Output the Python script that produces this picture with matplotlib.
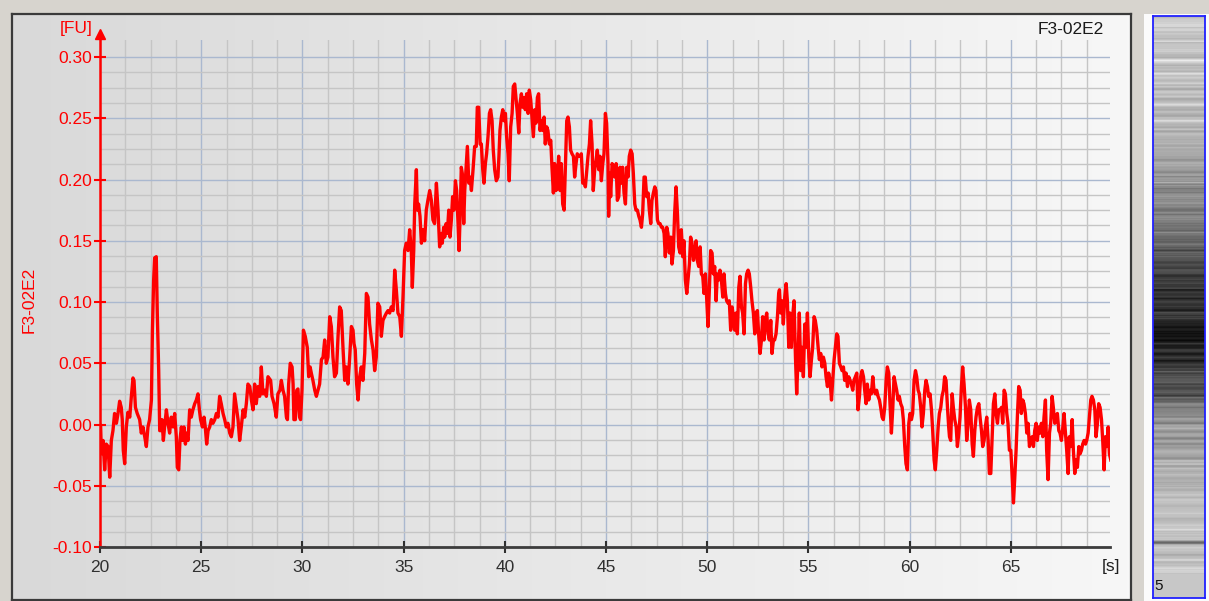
import numpy as np
import matplotlib.pyplot as plt
from matplotlib.colors import LinearSegmentedColormap
from matplotlib.patches import Rectangle
from matplotlib.ticker import FixedLocator, FormatStrFormatter

# trace, (time [s], signal [FU]) in pieces
trace_20_28 = [
    (20.00, 0.000), (20.03, -0.001), (20.07, -0.024), (20.15, -0.013), (20.23, -0.037),
    (20.31, -0.016), (20.40, -0.018), (20.48, -0.043), (20.56, -0.013), (20.64, -0.005),
    (20.72, 0.009), (20.81, 0.001), (20.89, 0.009), (20.97, 0.019), (21.05, 0.014),
    (21.10, 0.004), (21.15, -0.021), (21.22, -0.032), (21.30, -0.002), (21.38, 0.010),
    (21.47, 0.006), (21.55, 0.023), (21.63, 0.038), (21.68, 0.036), (21.75, 0.014),
    (21.84, 0.009), (21.96, 0.004), (22.04, -0.007), (22.12, -0.002), (22.21, -0.010),
    (22.29, -0.018), (22.37, -0.002), (22.45, 0.004), (22.54, 0.020), (22.59, 0.077),
    (22.65, 0.118), (22.70, 0.136), (22.78, 0.137), (22.83, 0.091), (22.90, 0.044),
    (22.95, -0.005), (23.00, -0.005), (23.06, 0.004), (23.13, -0.013), (23.19, -0.002),
    (23.28, 0.012), (23.36, 0.001), (23.44, -0.007), (23.52, 0.006), (23.61, -0.002),
    (23.69, 0.009), (23.77, -0.010), (23.82, -0.035), (23.89, -0.037), (23.95, -0.013),
    (24.02, -0.002), (24.08, -0.013), (24.15, -0.002), (24.22, -0.016), (24.28, -0.007),
    (24.35, -0.013), (24.43, 0.012), (24.51, 0.006), (24.59, 0.012), (24.68, 0.017),
    (24.76, 0.020), (24.84, 0.025), (24.91, 0.012), (24.97, 0.004), (25.06, -0.002),
    (25.14, 0.006), (25.20, -0.002), (25.27, -0.016), (25.34, -0.005), (25.42, -0.002),
    (25.50, 0.004), (25.58, 0.001), (25.67, 0.004), (25.75, 0.009), (25.83, 0.006),
    (25.91, 0.023), (25.99, 0.017), (26.08, 0.009), (26.16, 0.004), (26.24, -0.002),
    (26.32, 0.001), (26.41, -0.007), (26.49, -0.010), (26.57, -0.002), (26.65, 0.025),
    (26.74, 0.014), (26.82, 0.004), (26.90, -0.013), (26.98, -0.002), (27.07, 0.012),
    (27.15, 0.006), (27.23, 0.017), (27.31, 0.033), (27.40, 0.031), (27.48, 0.020),
    (27.56, 0.012), (27.64, 0.033), (27.72, 0.017), (27.81, 0.031), (27.89, 0.023),
    (27.97, 0.047), (28.05, 0.025), (28.14, 0.028), (28.22, 0.023), (28.30, 0.039),
]

trace_28_37 = [
    (28.43, 0.036), (28.50, 0.023), (28.60, 0.017), (28.71, 0.006), (28.79, 0.025),
    (28.89, 0.028), (28.96, 0.036), (29.04, 0.028), (29.12, 0.023), (29.21, 0.006),
    (29.26, 0.004), (29.32, 0.033), (29.40, 0.050), (29.49, 0.047), (29.54, 0.033),
    (29.58, 0.004), (29.65, 0.004), (29.72, 0.028), (29.78, 0.029), (29.86, 0.006),
    (29.91, 0.004), (29.98, 0.028), (30.05, 0.077), (30.14, 0.072), (30.24, 0.063),
    (30.31, 0.039), (30.38, 0.047), (30.44, 0.042), (30.52, 0.036), (30.61, 0.028),
    (30.69, 0.023), (30.77, 0.028), (30.85, 0.033), (30.94, 0.053), (31.02, 0.055),
    (31.10, 0.069), (31.18, 0.050), (31.26, 0.055), (31.35, 0.088), (31.43, 0.080),
    (31.51, 0.055), (31.59, 0.039), (31.68, 0.042), (31.76, 0.072), (31.84, 0.096),
    (31.92, 0.093), (32.01, 0.061), (32.09, 0.036), (32.17, 0.047), (32.25, 0.033),
    (32.33, 0.053), (32.42, 0.080), (32.50, 0.077), (32.55, 0.066), (32.61, 0.061),
    (32.68, 0.033), (32.75, 0.020), (32.83, 0.039), (32.91, 0.047), (32.99, 0.036),
    (33.08, 0.058), (33.16, 0.107), (33.24, 0.104), (33.32, 0.082), (33.41, 0.069),
    (33.49, 0.061), (33.57, 0.044), (33.65, 0.055), (33.73, 0.099), (33.82, 0.096),
    (33.90, 0.072), (33.98, 0.085), (34.06, 0.088), (34.15, 0.091), (34.23, 0.093),
    (34.31, 0.091), (34.39, 0.096), (34.48, 0.093), (34.56, 0.126), (34.64, 0.110),
    (34.72, 0.091), (34.81, 0.088), (34.89, 0.072), (34.97, 0.104), (35.05, 0.142),
    (35.13, 0.148), (35.22, 0.142), (35.30, 0.159), (35.38, 0.142), (35.43, 0.112),
    (35.50, 0.142), (35.55, 0.180), (35.63, 0.208), (35.68, 0.175), (35.74, 0.180),
    (35.81, 0.170), (35.88, 0.148), (35.96, 0.159), (36.04, 0.150), (36.12, 0.175),
    (36.20, 0.183), (36.29, 0.191), (36.37, 0.183), (36.45, 0.167), (36.53, 0.164),
    (36.62, 0.197), (36.70, 0.175), (36.78, 0.145),
]

trace_37_45 = [
    (36.86, 0.156), (36.91, 0.148), (36.98, 0.161), (37.03, 0.153), (37.10, 0.164),
    (37.16, 0.156), (37.23, 0.175), (37.29, 0.153), (37.36, 0.167), (37.42, 0.186),
    (37.49, 0.175), (37.56, 0.199), (37.62, 0.191), (37.69, 0.164), (37.74, 0.142),
    (37.80, 0.175), (37.85, 0.210), (37.90, 0.205), (37.97, 0.164), (38.02, 0.191),
    (38.10, 0.213), (38.15, 0.227), (38.22, 0.197), (38.28, 0.202), (38.35, 0.191),
    (38.43, 0.208), (38.51, 0.227), (38.59, 0.227), (38.64, 0.259), (38.71, 0.259),
    (38.78, 0.229), (38.84, 0.229), (38.91, 0.208), (38.97, 0.197), (39.04, 0.213),
    (39.10, 0.221), (39.17, 0.235), (39.24, 0.254), (39.30, 0.257), (39.37, 0.248),
    (39.43, 0.224), (39.50, 0.208), (39.58, 0.199), (39.66, 0.202), (39.71, 0.219),
    (39.76, 0.240), (39.83, 0.251), (39.90, 0.257), (39.96, 0.248), (40.03, 0.254),
    (40.09, 0.235), (40.16, 0.221), (40.22, 0.199), (40.29, 0.243), (40.36, 0.254),
    (40.42, 0.276), (40.49, 0.278), (40.55, 0.267), (40.62, 0.254), (40.69, 0.238),
    (40.75, 0.262), (40.82, 0.270), (40.88, 0.259), (40.95, 0.267), (41.01, 0.257),
    (41.08, 0.270), (41.15, 0.254), (41.21, 0.273), (41.28, 0.265), (41.34, 0.251),
    (41.41, 0.235), (41.48, 0.257), (41.54, 0.246), (41.61, 0.267), (41.67, 0.270),
    (41.74, 0.240), (41.81, 0.248), (41.87, 0.240), (41.94, 0.251), (42.00, 0.229),
    (42.07, 0.243), (42.13, 0.240), (42.20, 0.229), (42.27, 0.232), (42.33, 0.210),
    (42.40, 0.189), (42.46, 0.213), (42.53, 0.191), (42.60, 0.199), (42.66, 0.219),
    (42.73, 0.191), (42.79, 0.213), (42.86, 0.180), (42.93, 0.175), (42.99, 0.208),
    (43.06, 0.248), (43.12, 0.251), (43.19, 0.243), (43.25, 0.224), (43.32, 0.221),
    (43.39, 0.219), (43.45, 0.202), (43.52, 0.213), (43.58, 0.221), (43.65, 0.219),
    (43.72, 0.219), (43.78, 0.221), (43.85, 0.197), (43.91, 0.199), (43.98, 0.194),
    (44.05, 0.208), (44.11, 0.219), (44.18, 0.229), (44.24, 0.248), (44.31, 0.229),
    (44.37, 0.191), (44.44, 0.208), (44.51, 0.216), (44.57, 0.224), (44.64, 0.208),
    (44.70, 0.219), (44.77, 0.199), (44.84, 0.213), (44.90, 0.221), (44.97, 0.254),
    (45.03, 0.246), (45.10, 0.213),
]

trace_45_54 = [
    (45.13, 0.170), (45.18, 0.205), (45.23, 0.186), (45.30, 0.213), (45.36, 0.210),
    (45.43, 0.202), (45.50, 0.213), (45.56, 0.183), (45.63, 0.186), (45.69, 0.210),
    (45.76, 0.197), (45.82, 0.210), (45.89, 0.189), (45.96, 0.180), (46.02, 0.210),
    (46.09, 0.202), (46.15, 0.219), (46.22, 0.224), (46.29, 0.221), (46.35, 0.205),
    (46.42, 0.180), (46.48, 0.175), (46.55, 0.175), (46.62, 0.170), (46.68, 0.167),
    (46.75, 0.161), (46.81, 0.172), (46.88, 0.202), (46.94, 0.202), (47.01, 0.186),
    (47.08, 0.189), (47.14, 0.175), (47.21, 0.164), (47.27, 0.183), (47.34, 0.189),
    (47.41, 0.194), (47.47, 0.191), (47.54, 0.167), (47.60, 0.164), (47.67, 0.164),
    (47.74, 0.161), (47.80, 0.161), (47.87, 0.156), (47.93, 0.137), (48.00, 0.161),
    (48.06, 0.156), (48.13, 0.140), (48.20, 0.153), (48.26, 0.131), (48.33, 0.142),
    (48.39, 0.172), (48.46, 0.194), (48.53, 0.172), (48.59, 0.145), (48.66, 0.140),
    (48.72, 0.159), (48.79, 0.137), (48.85, 0.150), (48.92, 0.118), (48.99, 0.107),
    (49.05, 0.118), (49.12, 0.131), (49.18, 0.153), (49.25, 0.148), (49.32, 0.134),
    (49.38, 0.140), (49.45, 0.150), (49.51, 0.134), (49.58, 0.129), (49.65, 0.145),
    (49.71, 0.123), (49.78, 0.121), (49.84, 0.107), (49.91, 0.123), (49.97, 0.104),
    (50.04, 0.080), (50.11, 0.112), (50.17, 0.142), (50.24, 0.140), (50.30, 0.123),
    (50.37, 0.129), (50.44, 0.101), (50.50, 0.123), (50.57, 0.118), (50.63, 0.126),
    (50.70, 0.118), (50.77, 0.104), (50.83, 0.123), (50.90, 0.107), (50.96, 0.101),
    (51.03, 0.099), (51.09, 0.101), (51.16, 0.077), (51.23, 0.096), (51.29, 0.088),
    (51.36, 0.077), (51.42, 0.091), (51.49, 0.074), (51.56, 0.112), (51.62, 0.121),
    (51.69, 0.096), (51.75, 0.091), (51.82, 0.074), (51.89, 0.115), (51.95, 0.123),
    (52.02, 0.126), (52.08, 0.123), (52.15, 0.112), (52.21, 0.101), (52.28, 0.091),
    (52.35, 0.074), (52.41, 0.091), (52.48, 0.093), (52.54, 0.074), (52.61, 0.058),
    (52.68, 0.069), (52.74, 0.088), (52.81, 0.069), (52.87, 0.085), (52.94, 0.091),
    (53.01, 0.074), (53.07, 0.069), (53.14, 0.085), (53.20, 0.058), (53.27, 0.069),
    (53.33, 0.069), (53.40, 0.074), (53.47, 0.088), (53.53, 0.107),
]

trace_54_62 = [
    (53.57, 0.110), (53.63, 0.091), (53.70, 0.101), (53.76, 0.082), (53.83, 0.104),
    (53.90, 0.115), (53.96, 0.101), (54.03, 0.063), (54.09, 0.091), (54.16, 0.063),
    (54.22, 0.088), (54.29, 0.101), (54.36, 0.055), (54.42, 0.025), (54.49, 0.055),
    (54.55, 0.091), (54.62, 0.044), (54.69, 0.063), (54.75, 0.039), (54.82, 0.082),
    (54.88, 0.063), (54.95, 0.091), (55.02, 0.055), (55.08, 0.039), (55.15, 0.053),
    (55.21, 0.063), (55.28, 0.088), (55.34, 0.085), (55.41, 0.077), (55.48, 0.063),
    (55.54, 0.053), (55.61, 0.058), (55.67, 0.047), (55.74, 0.055), (55.81, 0.050),
    (55.87, 0.039), (55.94, 0.031), (56.00, 0.042), (56.07, 0.036), (56.14, 0.020),
    (56.20, 0.036), (56.27, 0.053), (56.33, 0.063), (56.40, 0.074), (56.46, 0.072),
    (56.53, 0.050), (56.60, 0.047), (56.66, 0.044), (56.73, 0.047), (56.79, 0.036),
    (56.86, 0.042), (56.93, 0.031), (56.99, 0.039), (57.06, 0.036), (57.12, 0.033),
    (57.19, 0.028), (57.25, 0.036), (57.32, 0.039), (57.39, 0.042), (57.45, 0.012),
    (57.52, 0.023), (57.58, 0.039), (57.65, 0.044), (57.72, 0.039), (57.78, 0.028),
    (57.85, 0.017), (57.91, 0.033), (57.98, 0.020), (58.05, 0.028), (58.11, 0.025),
    (58.18, 0.039), (58.24, 0.028), (58.31, 0.025), (58.37, 0.028), (58.44, 0.023),
    (58.51, 0.020), (58.57, 0.014), (58.64, 0.006), (58.70, 0.004), (58.77, 0.014),
    (58.84, 0.036), (58.90, 0.047), (58.97, 0.042), (59.03, 0.017), (59.10, -0.007),
    (59.17, 0.014), (59.23, 0.039), (59.30, 0.033), (59.36, 0.028), (59.43, 0.020),
    (59.49, 0.023), (59.56, 0.017), (59.63, 0.014), (59.69, 0.004), (59.76, -0.018),
    (59.82, -0.032), (59.89, -0.037), (59.96, 0.001), (60.02, 0.009), (60.09, 0.004),
    (60.15, 0.009), (60.22, 0.036), (60.29, 0.044), (60.35, 0.039), (60.42, 0.028),
    (60.48, 0.025), (60.55, 0.014), (60.61, -0.002), (60.68, 0.009), (60.75, 0.028),
    (60.81, 0.036), (60.88, 0.031), (60.94, 0.023), (61.01, 0.025), (61.08, 0.012),
    (61.14, -0.005), (61.21, -0.029), (61.27, -0.037), (61.34, -0.021), (61.41, -0.002),
    (61.47, 0.009), (61.54, 0.014), (61.60, 0.023), (61.67, 0.028), (61.73, 0.039),
    (61.80, 0.036), (61.87, 0.014), (61.93, -0.002),
]

trace_62_70 = [
    (61.97, -0.010), (62.03, -0.013), (62.10, 0.025), (62.16, 0.014), (62.23, 0.004),
    (62.30, -0.002), (62.36, -0.018), (62.43, -0.007), (62.49, 0.006), (62.56, 0.031),
    (62.62, 0.047), (62.69, 0.033), (62.76, 0.014), (62.82, -0.013), (62.89, 0.001),
    (62.95, 0.020), (63.02, 0.012), (63.09, -0.016), (63.15, -0.026), (63.22, -0.005),
    (63.28, 0.006), (63.35, 0.014), (63.42, 0.017), (63.48, 0.006), (63.55, -0.005),
    (63.61, -0.018), (63.68, -0.013), (63.74, -0.002), (63.81, 0.006), (63.88, -0.013),
    (63.94, -0.040), (64.01, -0.040), (64.07, -0.013), (64.14, 0.017), (64.21, 0.025),
    (64.27, 0.009), (64.34, 0.001), (64.40, 0.012), (64.47, 0.012), (64.54, 0.014),
    (64.60, 0.001), (64.67, 0.028), (64.73, 0.025), (64.80, 0.009), (64.86, 0.001),
    (64.93, -0.021), (65.00, -0.021), (65.06, -0.040), (65.13, -0.064), (65.19, -0.045),
    (65.26, -0.021), (65.33, 0.009), (65.39, 0.031), (65.46, 0.028), (65.52, 0.009),
    (65.59, 0.020), (65.65, 0.017), (65.72, 0.009), (65.79, -0.007), (65.85, 0.001),
    (65.92, -0.018), (65.98, -0.013), (66.05, -0.010), (66.12, -0.018), (66.18, -0.005),
    (66.25, 0.001), (66.31, -0.013), (66.38, -0.002), (66.45, -0.007), (66.51, 0.001),
    (66.58, -0.010), (66.64, 0.006), (66.71, 0.020), (66.77, -0.021), (66.84, -0.045),
    (66.91, -0.007), (66.97, 0.001), (67.04, 0.023), (67.10, 0.014), (67.17, 0.001),
    (67.24, 0.004), (67.30, 0.009), (67.37, -0.005), (67.43, -0.007), (67.50, -0.013),
    (67.57, -0.002), (67.63, 0.009), (67.70, -0.007), (67.76, -0.021), (67.83, -0.040),
    (67.89, -0.010), (67.96, -0.018), (68.03, 0.004), (68.09, -0.021), (68.16, -0.040),
    (68.22, -0.029), (68.29, -0.035), (68.36, -0.018), (68.42, -0.024), (68.49, -0.021),
    (68.55, -0.016), (68.62, -0.013), (68.69, -0.016), (68.75, -0.013), (68.82, -0.007),
    (68.88, 0.006), (68.95, 0.020), (69.01, 0.023), (69.08, 0.020), (69.15, 0.012),
    (69.21, -0.010), (69.28, 0.001), (69.34, 0.017), (69.41, 0.014), (69.48, 0.004),
    (69.54, -0.013), (69.61, -0.037), (69.67, -0.010), (69.74, -0.018), (69.81, -0.002),
    (69.87, -0.024), (69.94, -0.029),
]

y_ticks = [-0.10, -0.05, 0.00, 0.05, 0.10, 0.15, 0.20, 0.25, 0.30]
x_ticks = [20, 25, 30, 35, 40, 45, 50, 55, 60, 65]
sample_name = "F3-02E2"
well_number = "5"

pts = np.array(trace_20_28 + trace_28_37 + trace_37_45 + trace_45_54 + trace_54_62 + trace_62_70)
t, fu = pts[:, 0], pts[:, 1]

W, H = 1209, 601


def px_rect(x0, y0, x1, y1):
    # pixel box (top-left origin) -> figure fraction rect
    return [x0 / W, 1 - y1 / H, (x1 - x0) / W, (y1 - y0) / H]


fig = plt.figure(figsize=(W / 100, H / 100), dpi=100, facecolor='#d7d4ce')

# white column behind the gel lane
fig.patches.append(Rectangle((1144 / W, 0), 65 / W, 1 - 14 / H, transform=fig.transFigure,
                             facecolor='#fbfbfb', edgecolor='none', zorder=-1))

# electropherogram panel with a soft left->right gradient
bg = fig.add_axes(px_rect(12, 14, 1131, 600))
grad_cmap = LinearSegmentedColormap.from_list('panel', ['#d9d9d9', '#f7f7f7'])
bg.imshow(np.linspace(0, 1, 256)[None, :], cmap=grad_cmap, aspect='auto', extent=[0, 1, 0, 1])
bg.set_xticks([])
bg.set_yticks([])
for s in bg.spines.values():
    s.set_color('#3a3a3a')
    s.set_linewidth(1.6)

ax = fig.add_axes(px_rect(100, 40, 1110, 547))
ax.patch.set_alpha(0)
ax.set_xlim(20, 69.9)
ax.set_ylim(-0.10, 0.3139)

ax.xaxis.set_major_locator(FixedLocator(x_ticks))
ax.xaxis.set_minor_locator(FixedLocator(np.arange(20, 69.9, 1.25)))
ax.yaxis.set_major_locator(FixedLocator(y_ticks))
ax.yaxis.set_minor_locator(FixedLocator(np.arange(-0.10, 0.3001, 0.0125)))
ax.yaxis.set_major_formatter(FormatStrFormatter('%.2f'))

ax.set_axisbelow(True)
ax.grid(which='minor', color='#c5c5c5', linewidth=1.0)
ax.grid(which='major', color='#aab8cf', linewidth=1.0)

ax.plot(t, fu, color='#ff0000', linewidth=2.4, zorder=3)

for side in ('top', 'right'):
    ax.spines[side].set_visible(False)
ax.spines['left'].set_color('#ff0000')
ax.spines['left'].set_linewidth(1.8)
ax.spines['bottom'].set_color('#3c3c3c')
ax.spines['bottom'].set_linewidth(2.0)

ax.tick_params(axis='both', which='minor', length=0)
ax.tick_params(axis='y', which='major', direction='inout', length=8, width=1.5,
               colors='#ff0000', labelsize=12.5, pad=1.5)
ax.tick_params(axis='x', which='major', direction='inout', length=8, width=1.5,
               colors='#303030', labelsize=12.5, pad=5)
for lab in ax.get_xticklabels() + ax.get_yticklabels():
    lab.set_fontfamily('Liberation Sans')

# arrow head on top of the y axis
ax.plot([0], [1.0 + 6 / 507], transform=ax.transAxes, marker='^', markersize=7.5,
        color='#ff0000', clip_on=False, zorder=4)

txt = dict(fontfamily='Liberation Sans', fontsize=12.5)
fig.text(93 / W, 1 - 29 / H, '[FU]', ha='right', va='center', color='#ff0000', **txt)
fig.text(1104 / W, 1 - 29 / H, sample_name, ha='right', va='center', color='#1a1a1a', **txt)
fig.text(1111 / W, 1 - 567 / H, '[s]', ha='center', va='center', color='#202020', **txt)
fig.text(29 / W, 1 - 300 / H, sample_name, rotation=90, ha='center', va='center',
         color='#ff0000', **txt)

# gel-like lane: time runs bottom to top, darker where the signal is higher
gax = fig.add_axes(px_rect(1153, 16, 1205, 598))
lane_lo, lane_hi = 17.9, 69.0
rows = np.linspace(lane_hi, lane_lo, 583)
lane_fu = np.interp(rows, t, fu)
shade = np.clip(0.76 - 2.6 * lane_fu, 0, 0.93)
shade[rows < t[0]] = 0.78
gax.imshow(shade[:, None], cmap='gray', vmin=0, vmax=1, aspect='auto',
           interpolation='nearest', extent=[0, 1, lane_lo, lane_hi])
gax.set_xticks([])
gax.set_yticks([])
for s in gax.spines.values():
    s.set_color('#2020ff')
    s.set_linewidth(1.3)
gax.text(0.03, 0.008, well_number, transform=gax.transAxes, ha='left', va='bottom',
         fontsize=11, fontfamily='Liberation Sans', color='#111111')

fig.savefig('out.png', dpi=100, facecolor=fig.get_facecolor())
